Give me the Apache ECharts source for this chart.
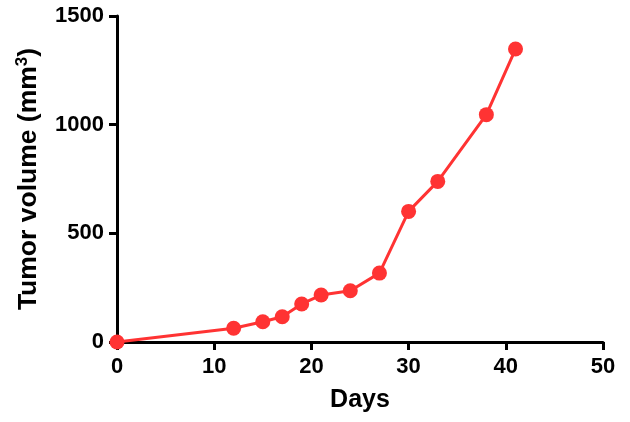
<!DOCTYPE html>
<html><head><meta charset="utf-8">
<script src="https://cdn.jsdelivr.net/npm/echarts@6/dist/echarts.min.js"></script>
<style>html,body{margin:0;padding:0;background:#fff}#c{width:630px;height:422px}</style>
</head><body><div id="c"></div>
<script>
const days = [0, 12, 15, 17, 19, 21, 24, 27, 30, 33, 38, 41];
const volume = [0, 63, 93, 116, 175, 216, 236, 317, 601, 739, 1046, 1348];
const xTicks = [0, 10, 20, 30, 40, 50];
const yTicks = [0, 500, 1000, 1500];

const chart = echarts.init(document.getElementById('c'));
const font = '"Liberation Sans", Arial, sans-serif';
chart.setOption({
  animation: false,
  grid: {left: 117, right: 27, top: 16, bottom: 80, containLabel: false, outerBoundsMode: 'none'},
  xAxis: {
    type: 'value', min: xTicks[0], max: xTicks[xTicks.length-1], interval: 10,
    name: 'Days', nameLocation: 'middle', nameGap: 46,
    nameTextStyle: {fontFamily: font, fontWeight: 'bold', fontSize: 25, color: '#000'},
    axisLine: {show: true, onZero: false, lineStyle: {color: '#000', width: 3}},
    axisTick: {show: true, length: 8, lineStyle: {color: '#000', width: 3}},
    axisLabel: {fontFamily: font, fontWeight: 'bold', fontSize: 22, color: '#000', margin: 14,
      formatter: v => String(v)},
    splitLine: {show: false}
  },
  yAxis: {
    type: 'value', min: yTicks[0], max: yTicks[yTicks.length-1], interval: 500,
    name: '{a|Tumor volume (mm}{b|3}{a|)}', nameLocation: 'middle', nameGap: 73, nameRotate: 90,
    nameTextStyle: {
      rich: {
        a: {fontFamily: font, fontWeight: 'bold', fontSize: 26.5, color: '#000', lineHeight: 30},
        b: {fontFamily: font, fontWeight: 'bold', fontSize: 17, color: '#000', verticalAlign: 'top', lineHeight: 30, padding: [0,0,12,0]}
      }
    },
    axisLine: {show: true, onZero: false, lineStyle: {color: '#000', width: 3}},
    axisTick: {show: true, length: 8, lineStyle: {color: '#000', width: 3}},
    axisLabel: {fontFamily: font, fontWeight: 'bold', fontSize: 22, color: '#000', margin: 13,
      formatter: v => String(v)},
    splitLine: {show: false}
  },
  series: [{
    type: 'line',
    data: days.map((d, i) => [d, volume[i]]),
    symbol: 'circle', symbolSize: 15,
    lineStyle: {color: '#ff3333', width: 3},
    itemStyle: {color: '#ff3333'},
    clip: false
  }]
});
</script></body></html>
